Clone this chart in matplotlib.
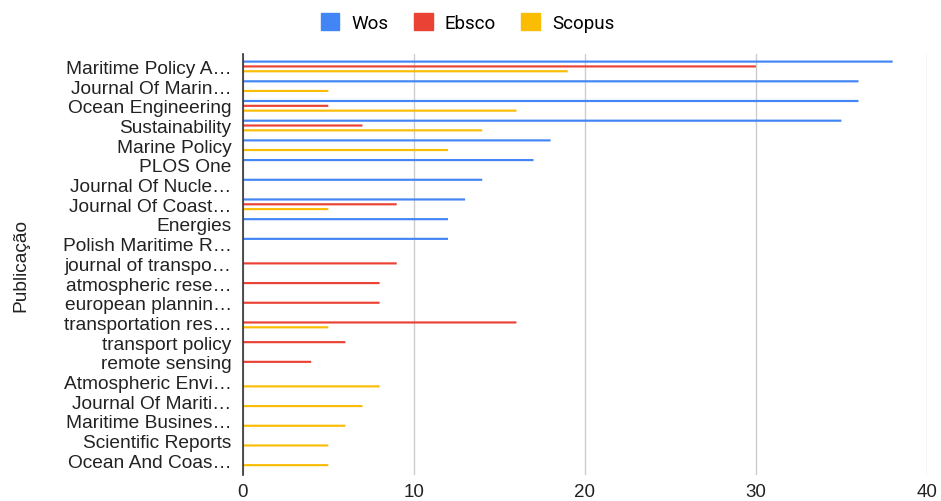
import matplotlib
matplotlib.use("Agg")
import matplotlib.pyplot as plt
import numpy as np

categories = ["Maritime Policy A…", "Journal Of Marin…", "Ocean Engineering", "Sustainability",
              "Marine Policy", "PLOS One", "Journal Of Nucle…", "Journal Of Coast…", "Energies",
              "Polish Maritime R…", "journal of transpo…", "atmospheric rese…", "european plannin…",
              "transportation res…", "transport policy", "remote sensing", "Atmospheric Envi…",
              "Journal Of Mariti…", "Maritime Busines…", "Scientific Reports", "Ocean And Coas…"]
wos =    [38, 36, 36, 35, 18, 17, 14, 13, 12, 12, 0, 0, 0, 0, 0, 0, 0, 0, 0, 0, 0]
ebsco =  [30, 0, 5, 7, 0, 0, 0, 9, 0, 0, 9, 8, 8, 16, 6, 4, 0, 0, 0, 0, 0]
scopus = [19, 5, 16, 14, 12, 0, 0, 5, 0, 0, 0, 0, 0, 5, 0, 0, 8, 7, 6, 5, 5]
series_names = ["Wos", "Ebsco", "Scopus"]
colors = ["#4285F4", "#EA4335", "#FBBC04"]
xticks = [0, 10, 20, 30, 40]

fig = plt.figure(figsize=(9.41, 5.02), dpi=100)
ax = fig.add_axes([0.258, 0.052, 0.727, 0.838])

y = np.arange(len(categories))
off = 0.245
h = 0.11
for vals, name, c, o in zip([wos, ebsco, scopus], series_names, colors, [-off, 0, off]):
    bars = ax.barh(y + o, vals, height=h, color=c, label=name, zorder=3, linewidth=0)
    for b in bars:
        b.set_snap(False)

ax.set_ylim(20.74, -0.62)
ax.set_xlim(0, 40)
ax.set_xticks(xticks)
ax.set_yticks(y)
ax.set_yticklabels(categories, fontsize=13.8, color="#222222", family="Liberation Sans")
for lbl in ax.get_xticklabels():
    lbl.set_fontsize(13.5)
    lbl.set_color("#222222")
    lbl.set_family("Liberation Sans")
ax.tick_params(axis="both", length=0)
ax.tick_params(axis="y", pad=8)
ax.tick_params(axis="x", pad=6)
ax.grid(axis="x", color="#cccccc", linewidth=1, zorder=0)
for s in ["top", "right", "bottom"]:
    ax.spines[s].set_visible(False)
ax.spines["left"].set_color("#333333")
ax.spines["left"].set_linewidth(1.2)
ax.spines["left"].set_zorder(4)

ax.set_ylabel("Publicação", fontsize=13.8, color="#222222", family="Liberation Sans")
ax.yaxis.set_label_coords(-0.312, 0.5)

handles = [plt.Rectangle((0, 0), 1, 1, color=c) for c in colors]
fig.legend(handles, series_names, loc="center", bbox_to_anchor=(0.497, 0.953), ncol=3,
           frameon=False, handlelength=1.0, handleheight=1.0,
           columnspacing=1.35, handletextpad=0.65, prop={"family": "Roboto", "size": 13.5})

fig.savefig("out.png", dpi=100)
